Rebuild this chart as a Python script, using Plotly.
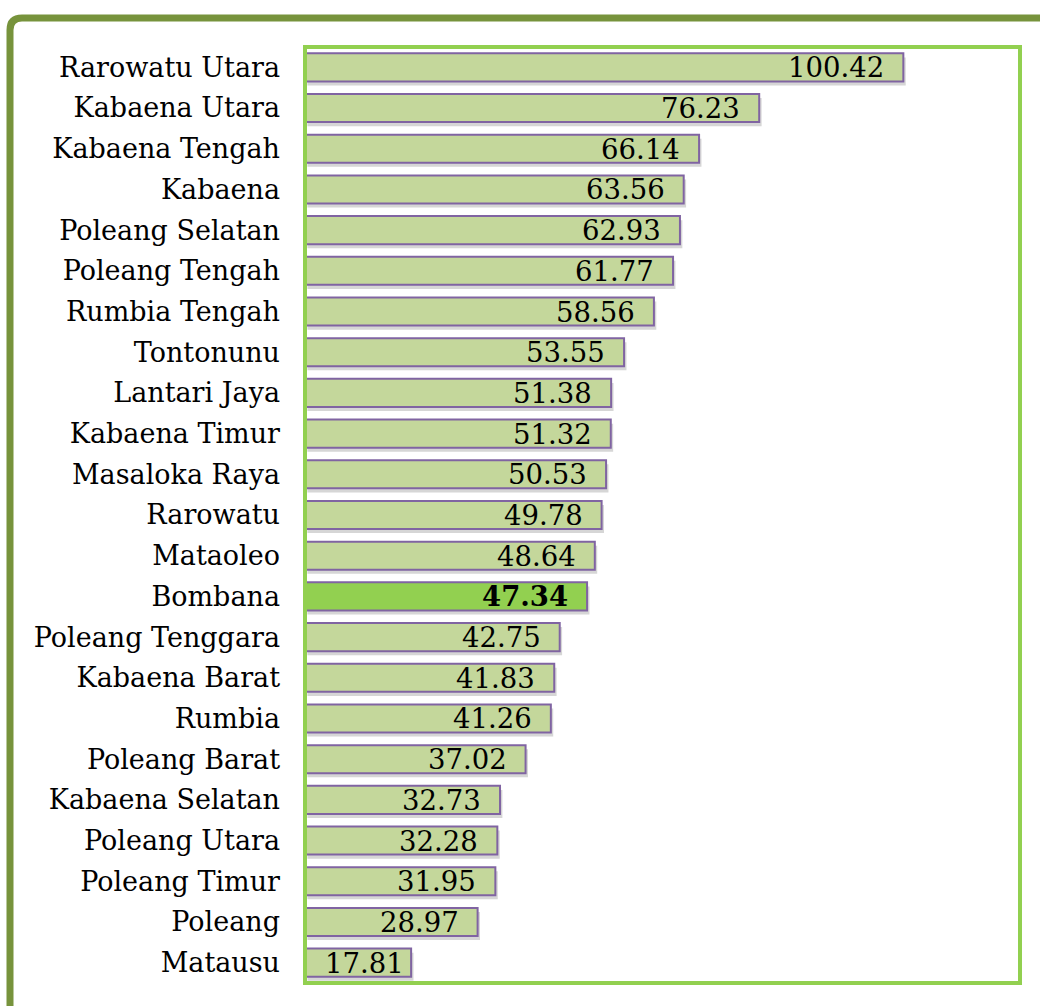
import plotly.graph_objects as go

categories = ["Rarowatu Utara", "Kabaena Utara", "Kabaena Tengah", "Kabaena", "Poleang Selatan",
              "Poleang Tengah", "Rumbia Tengah", "Tontonunu", "Lantari Jaya", "Kabaena Timur",
              "Masaloka Raya", "Rarowatu", "Mataoleo", "Bombana", "Poleang Tenggara",
              "Kabaena Barat", "Rumbia", "Poleang Barat", "Kabaena Selatan", "Poleang Utara",
              "Poleang Timur", "Poleang", "Matausu"]
values = [100.42, 76.23, 66.14, 63.56, 62.93, 61.77, 58.56, 53.55, 51.38, 51.32, 50.53, 49.78,
          48.64, 47.34, 42.75, 41.83, 41.26, 37.02, 32.73, 32.28, 31.95, 28.97, 17.81]
highlight = "Bombana"

W, H = 1040, 1006
ML, MR, MT, MB = 305, 20, 47, 23
pw, ph = W - ML - MR, H - MT - MB
BW = 0.69
XMAX = 120

fill_colors = ["#92d050" if c == highlight else "#c4d79b" for c in categories]

fig = go.Figure()
# soft shadow behind bars
fig.add_trace(go.Bar(
    y=categories, x=values, orientation="h", base=0.4,
    width=BW, offset=-BW / 2 + 0.1,
    marker=dict(color="rgba(70,70,70,0.22)", line=dict(width=0)),
    hoverinfo="skip", showlegend=False))
fig.add_trace(go.Bar(
    y=categories, x=values, orientation="h",
    width=BW, offset=-BW / 2,
    marker=dict(color=fill_colors, line=dict(color="#8064a2", width=2)),
    showlegend=False))

for c, v in zip(categories, values):
    bold = c == highlight
    bar_px = v * pw / XMAX
    shift = -17 if bar_px > 130 else -5
    fig.add_annotation(
        x=v, y=c, xref="x", yref="y", text=(f"<b>{v:.2f}</b>" if bold else f"{v:.2f}"),
        showarrow=False, xanchor="right", yanchor="middle", xshift=shift, yshift=0,
        font=dict(family="DejaVu Serif", size=27.5, color="#000000"))

def px_x(p):
    return (p - ML) / pw

def px_y(p):
    return (H - MB - p) / ph

# outer olive frame (top and left lines with rounded corner)
x0, y0 = px_x(10), px_y(18)
fig.add_shape(type="path", xref="paper", yref="paper",
              path=f"M {x0} {px_y(1020)} L {x0} {px_y(30)} Q {x0} {y0} {px_x(22)} {y0} L {px_x(1060)} {y0}",
              line=dict(color="#77933c", width=7))
# inner light-green plot border
fig.add_shape(type="rect", xref="paper", yref="paper", x0=0, y0=0, x1=1, y1=1,
              line=dict(color="#92d050", width=4), layer="above")

fig.update_layout(
    width=W, height=H,
    margin=dict(l=ML, r=MR, t=MT, b=MB, pad=0),
    paper_bgcolor="white", plot_bgcolor="white",
    barmode="overlay",
    xaxis=dict(range=[0, XMAX], visible=False, fixedrange=True),
    yaxis=dict(autorange="reversed", showgrid=False, zeroline=False, showline=False,
               ticks="", ticklabelstandoff=24, fixedrange=True,
               tickfont=dict(family="DejaVu Serif", size=27, color="#000000")),
    font=dict(family="DejaVu Serif"),
)

fig.write_html("out.html", config={"displayModeBar": False})
with open("out.html", encoding="utf-8") as f:
    html = f.read()
html = html.replace("<body>", '<body style="margin:0;padding:0;overflow:hidden">', 1)
with open("out.html", "w", encoding="utf-8") as f:
    f.write(html)
